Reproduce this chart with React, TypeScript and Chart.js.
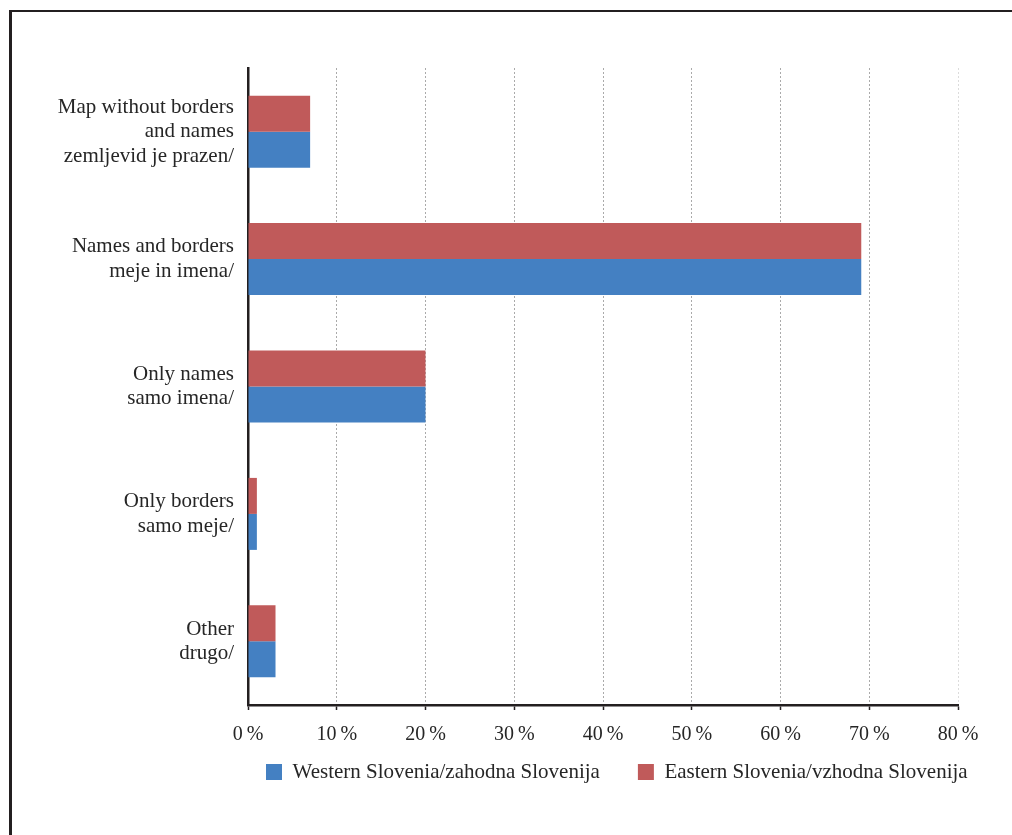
import React, { useEffect, useRef } from 'react';
import { Chart, registerables } from 'chart.js';

Chart.register(...registerables);

const categories: string[][] = [
  ['Map without borders', 'and names', 'zemljevid je prazen/'],
  ['Names and borders', 'meje in imena/'],
  ['Only names', 'samo imena/'],
  ['Only borders', 'samo meje/'],
  ['Other', 'drugo/'],
];
const westernValues = [7, 69.1, 20, 1, 3.1];
const easternValues = [7, 69.1, 20, 1, 3.1];
const westernName = 'Western Slovenia/zahodna Slovenija';
const easternName = 'Eastern Slovenia/vzhodna Slovenija';
const xMin = 0;
const xMax = 80;
const xStep = 10;

const FONT = "'Liberation Serif', 'Times New Roman', serif";
const TEXT = '#262626';
const DARK = '#231f20';

const legendPlacer = {
  id: 'legendPlacer',
  afterLayout(chart: any) {
    const lg = chart.legend;
    if (!lg) return;
    const pad = lg.options.labels.padding;
    const fs = lg.options.labels.font.size;
    const bh = lg.options.labels.boxHeight;
    const ih = Math.max(fs, bh);
    lg.left = 266 - pad;
    lg.right = 1400;
    lg.top = 764 - pad - (ih - bh) / 2;
  },
};

export default function App() {
  const ref = useRef<HTMLCanvasElement | null>(null);
  useEffect(() => {
    if (!ref.current) return;
    const chart = new Chart(ref.current, {
      type: 'bar',
      data: {
        labels: categories,
        datasets: [
          {
            label: easternName,
            data: easternValues,
            backgroundColor: '#C05A5A',
            borderWidth: 0,
            barPercentage: 1,
            categoryPercentage: 0.565,
          },
          {
            label: westernName,
            data: westernValues,
            backgroundColor: '#4480C2',
            borderWidth: 0,
            barPercentage: 1,
            categoryPercentage: 0.565,
          },
        ],
      },
      options: {
        indexAxis: 'y',
        animation: false,
        responsive: false,
        maintainAspectRatio: false,
        layout: { padding: { top: 68, right: 54, bottom: 11, left: 0 } },
        scales: {
          x: {
            type: 'linear',
            min: xMin,
            max: xMax,
            position: 'bottom',
            ticks: {
              stepSize: xStep,
              callback: (v: any) => v + '\u2009%',
              font: { family: FONT, size: 20 },
              color: TEXT,
              padding: 13,
              maxRotation: 0,
            },
            grid: {
              color: (ctx: any) =>
                ctx.tick && ctx.tick.value === xMin
                  ? 'rgba(0,0,0,0)'
                  : ctx.tick && ctx.tick.value === xMax
                  ? '#dcdcdc'
                  : '#aaaaaa',
              lineWidth: 1,
              tickColor: DARK,
              tickLength: 5,
              tickWidth: 1.5,
              tickBorderDash: [],
            },
            border: { display: true, color: DARK, width: 2.5, dash: [2, 2] },
            afterFit: (s: any) => {
              s.height = 50;
            },
          },
          y: {
            type: 'category',
            grid: { display: false, drawTicks: false },
            border: { display: true, color: DARK, width: 2.5 },
            ticks: {
              font: { family: FONT, size: 21, lineHeight: 1.16 },
              color: TEXT,
              padding: 14,
            },
            afterFit: (s: any) => {
              s.width = 248;
            },
          },
        },
        plugins: {
          legend: {
            position: 'bottom',
            align: 'start',
            reverse: true,
            labels: {
              boxWidth: 16,
              boxHeight: 16,
              padding: 38,
              font: { family: FONT, size: 21 },
              color: TEXT,
            },
          },
          tooltip: { enabled: false },
          title: { display: false },
        },
      },
      plugins: [legendPlacer],
    } as any);
    return () => chart.destroy();
  }, []);

  return (
    <div style={{ position: 'fixed', left: 0, top: 0, width: 1012, height: 835, overflow: 'hidden', background: '#fff' }}>
      <div
        style={{
          position: 'absolute',
          left: 9,
          top: 10,
          width: 1000,
          height: 823,
          borderLeft: `3px solid ${DARK}`,
          borderTop: `2px solid ${DARK}`,
        }}
      />
      <canvas
        ref={ref}
        width={1012}
        height={835}
        style={{ position: 'absolute', left: 0, top: 0, width: 1012, height: 835 }}
      />
    </div>
  );
}
